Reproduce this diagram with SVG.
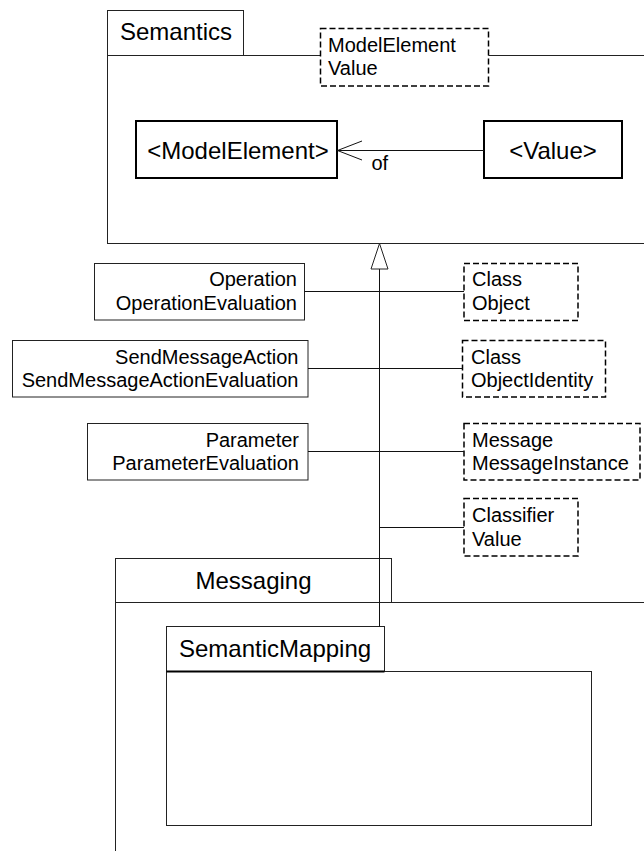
<svg xmlns="http://www.w3.org/2000/svg" width="644" height="851" viewBox="0 0 644 851">
<style>
text { font-family: "Liberation Sans", Arial, sans-serif; fill: #000; }
.big { font-size: 24px; }
.small { font-size: 20px; }
.box { fill: #fff; stroke: #222; stroke-width: 1; }
.thick { fill: #fff; stroke: #000; stroke-width: 2; }
.dash { fill: #fff; stroke: #000; stroke-width: 1.5; stroke-dasharray: 6 3; }
.line { fill: none; stroke: #111; stroke-width: 1; }
.end { text-anchor: end; }
.mid { text-anchor: middle; }
</style>
<rect width="644" height="851" fill="#fff"/>

<g id="pkg-semantics">
  <rect class="box" x="107.5" y="55.5" width="600" height="188"/>
  <rect class="box" x="107.5" y="10.5" width="136" height="45"/>
  <text class="big" x="120" y="40">Semantics</text>
</g>

<g id="note-semantics">
  <rect class="dash" x="320.5" y="28.5" width="168" height="57.5"/>
  <text class="small" x="328" y="51.5">ModelElement</text>
  <text class="small" x="328" y="75">Value</text>
</g>

<g id="cls-modelelement">
  <rect class="thick" x="136" y="121" width="201" height="57"/>
  <text class="big mid" x="238" y="158.5">&lt;ModelElement&gt;</text>
</g>

<g id="cls-value">
  <rect class="thick" x="484" y="121" width="138" height="57"/>
  <text class="big mid" x="553" y="158.5">&lt;Value&gt;</text>
</g>

<g id="map-operation">
  <rect class="box" x="94.5" y="263.5" width="210" height="56.5"/>
  <text class="small end" x="297" y="285.5">Operation</text>
  <text class="small end" x="297" y="309.5">OperationEvaluation</text>
</g>

<g id="map-sendmessage">
  <rect class="box" x="12.5" y="340.5" width="295.5" height="56.5"/>
  <text class="small end" x="298.5" y="363.5">SendMessageAction</text>
  <text class="small end" x="298.5" y="387">SendMessageActionEvaluation</text>
</g>

<g id="map-parameter">
  <rect class="box" x="87.5" y="423.5" width="220.5" height="56.5"/>
  <text class="small end" x="299" y="446.5">Parameter</text>
  <text class="small end" x="299" y="470">ParameterEvaluation</text>
</g>

<g id="note-class-object">
  <rect class="dash" x="464" y="263.5" width="114" height="57"/>
  <text class="small" x="472" y="285.5">Class</text>
  <text class="small" x="472" y="309.5">Object</text>
</g>

<g id="note-class-objectidentity">
  <rect class="dash" x="462.5" y="340.5" width="143" height="56.5"/>
  <text class="small" x="471" y="363.5">Class</text>
  <text class="small" x="471" y="387">ObjectIdentity</text>
</g>

<g id="note-message">
  <rect class="dash" x="464" y="423.5" width="176" height="56.5"/>
  <text class="small" x="472" y="446.5">Message</text>
  <text class="small" x="472" y="470">MessageInstance</text>
</g>

<g id="note-classifier">
  <rect class="dash" x="464" y="498.5" width="114" height="57.5"/>
  <text class="small" x="472" y="522">Classifier</text>
  <text class="small" x="472" y="545.5">Value</text>
</g>

<g id="pkg-messaging">
  <rect class="box" x="115.5" y="602.5" width="600" height="300"/>
  <rect class="box" x="115.5" y="558.5" width="276" height="44"/>
  <text class="big mid" x="253.5" y="588.5">Messaging</text>
</g>

<g id="pkg-semanticmapping">
  <rect class="box" x="166.5" y="671.5" width="425" height="154" stroke="#808080"/>
  <rect class="box" x="166.5" y="626.5" width="218" height="45"/>
  <line x1="166.5" y1="671.5" x2="384.5" y2="671.5" stroke="#000" stroke-width="2"/>
  <text class="big" x="179" y="657">SemanticMapping</text>
</g>

<g id="connectors">
  <line class="line" x1="337" y1="150.5" x2="484" y2="150.5"/>
  <polyline class="line" points="362,141 337.5,150.5 362,160"/>
  <text class="small" x="371.5" y="170">of</text>
  <line class="line" x1="379.5" y1="269" x2="379.5" y2="626.5"/>
  <polygon class="box" points="379.5,243.5 371,269 388,269"/>
  <line class="line" x1="304.5" y1="291.5" x2="464" y2="291.5"/>
  <line class="line" x1="308" y1="368.5" x2="462.5" y2="368.5"/>
  <line class="line" x1="308" y1="451.5" x2="464" y2="451.5"/>
  <line class="line" x1="379.5" y1="527.5" x2="464" y2="527.5"/>
</g>
</svg>
